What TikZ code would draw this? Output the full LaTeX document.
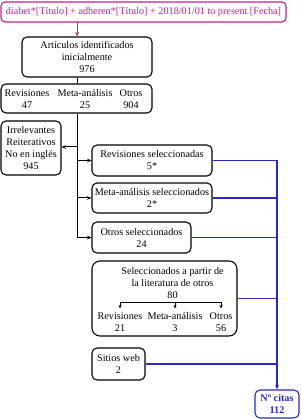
\documentclass[tikz,border=0pt]{standalone}
\usepackage{fontspec}
\setmainfont{Liberation Serif}
\usepackage{tikz}
\usetikzlibrary{arrows.meta}
\definecolor{queryc}{RGB}{200,30,140}
\definecolor{citac}{RGB}{40,40,205}
\tikzset{
  fbox/.style={rectangle,rounded corners=5pt,draw=black,line width=1.1pt,align=center,inner sep=0pt,font=\fontsize{10.2}{12}\selectfont},
  qbox/.style={fbox,draw=queryc,text=queryc,rounded corners=4pt},
  cbox/.style={fbox,draw=citac,text=citac,font=\fontsize{10.2}{12}\selectfont\bfseries},
  txt/.style={inner sep=0pt,align=center,font=\fontsize{10.2}{12}\selectfont},
  flow/.style={line width=1pt,black},
  flowarrow/.style={-{Stealth[length=1.6mm,width=1.3mm]},line width=1pt,black},
  qarrow/.style={-{Stealth[length=1.6mm,width=1.3mm]},line width=1pt,queryc},
  cline/.style={line width=1.1pt,citac},
  carrow/.style={-{Stealth[length=1.6mm,width=1.3mm]},line width=1.1pt,citac},
}
\begin{document}
\begin{tikzpicture}[x=1pt,y=-1pt]
  \useasboundingbox (0,0) rectangle (300,419);
  % search query
  \node[qbox,minimum width=285pt,minimum height=20pt] (query) at (143.5,12)
    {diabet*[Título] + adheren*[Título] + 2018/01/01 to present [Fecha]};
  % identified articles
  \node[fbox,minimum width=130pt,minimum height=40pt] (ident) at (87,57)
    {Artículos identificados\\inicialmente\\976};
  \node[fbox,minimum width=151pt,minimum height=29pt] (split) at (76.5,98.5) {};
  \node[txt] (splitrev) at (27,99) {Revisiones\\47};
  \node[txt] (splitmeta) at (85,99) {Meta-análisis\\25};
  \node[txt] (splitotr) at (131,99) {Otros\\904};
  % excluded
  \node[fbox,minimum width=60pt,minimum height=54pt] (excl) at (31,148)
    {Irrelevantes\\Reiterativos\\No en inglés\\945};
  % selected
  \node[fbox,minimum width=120pt,minimum height=31pt] (revsel) at (152,160.5)
    {Revisiones seleccionadas\\5*};
  \node[fbox,minimum width=120pt,minimum height=30pt] (metasel) at (152,198)
    {Meta-análisis seleccionados\\2*};
  \node[fbox,minimum width=99pt,minimum height=31pt] (otrsel) at (141.5,237.5)
    {Otros seleccionados\\24};
  % from literature of others
  \node[fbox,rounded corners=8pt,minimum width=145pt,minimum height=75pt] (lit) at (164.5,298.5) {};
  \node[txt] (littitle) at (172.5,283) {Seleccionados a partir de\\la literatura de otros\\80};
  \node[txt] (litrev) at (120,322) {Revisiones\\21};
  \node[txt] (litmeta) at (175,322) {Meta-análisis\\3};
  \node[txt] (litotr) at (221,322) {Otros\\56};
  \node[fbox,minimum width=53pt,minimum height=32pt] (web) at (118.5,364)
    {Sitios web\\2};
  % total
  \node[cbox,minimum width=44pt,minimum height=28pt] (citas) at (277,404)
    {Nº citas\\112};
  % connectors
  \coordinate (qa) at (77,22);
  \draw[qarrow] (qa) -- (qa |- ident.north);
  \draw[flow] (ident.south -| qa) -- (qa |- split.north);
  \coordinate (tk1) at (77,147);
  \coordinate (tk2) at (77,160.5);
  \coordinate (tk3) at (77,198);
  \coordinate (tk4) at (77,237.5);
  \draw[flow] (split.south -| tk1) -- (tk4);
  \draw[flowarrow] (tk4) -- (otrsel.west);
  \draw[flowarrow] (tk1) -- (tk1 -| excl.east);
  \draw[flowarrow] (tk2) -- (revsel.west);
  \draw[flowarrow] (tk3) -- (metasel.west);
  \coordinate (lb) at (172.5,302);
  \draw[line width=0.7pt] (lb -| litrev) -- (lb -| litotr);
  \foreach \n in {litrev,litmeta,litotr}
    \draw[-{Stealth[length=1.3mm,width=1.1mm]},line width=0.7pt] (lb -| \n) -- ++(0,6.5);
  \coordinate (jn) at (277,160.5);
  \draw[cline] (revsel.east) -- (jn);
  \draw[cline] (metasel.east) -- (metasel.east -| jn);
  \draw[cline] (otrsel.east) -- (otrsel.east -| jn);
  \draw[cline] (lit.east) -- (lit.east -| jn);
  \draw[cline] (web.east) -- (web.east -| jn);
  \draw[carrow] (jn) -- (citas.north);
\end{tikzpicture}
\end{document}
